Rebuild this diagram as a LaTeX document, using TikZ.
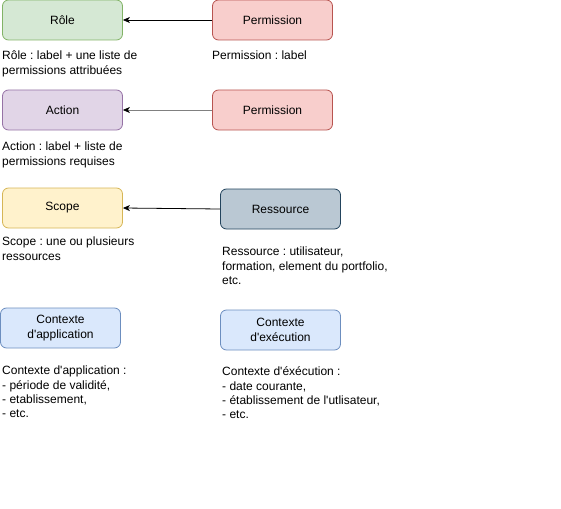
\documentclass[tikz,border=0pt]{standalone}
\usepackage{fontspec}
\setmainfont{Liberation Sans}
\usetikzlibrary{arrows.meta}
\frenchspacing
\definecolor{greenF}{HTML}{D5E8D4}\definecolor{greenD}{HTML}{82B366}
\definecolor{redF}{HTML}{F8CECC}\definecolor{redD}{HTML}{B85450}
\definecolor{purpF}{HTML}{E1D5E7}\definecolor{purpD}{HTML}{9673A6}
\definecolor{yelF}{HTML}{FFF2CC}\definecolor{yelD}{HTML}{D6B656}
\definecolor{slateF}{HTML}{BAC8D3}\definecolor{slateD}{HTML}{23445D}
\definecolor{blueF}{HTML}{DAE8FC}\definecolor{blueD}{HTML}{6C8EBF}
\definecolor{lineG}{HTML}{808080}
\newcommand{\ap}{\textquotesingle}
\begin{document}
\begin{tikzpicture}[x=1pt,y=-1pt,
  box/.style={rounded corners=6pt, minimum width=120pt, minimum height=40pt, inner sep=0pt,
    align=center, font=\fontsize{12}{15}\selectfont\frenchspacing, line width=0.8pt},
  desc/.style={anchor=north west, inner sep=0pt, align=left, font=\fontsize{12}{14.4}\selectfont\frenchspacing},
  conn/.style={line width=0.8pt, -{Stealth[length=7pt,width=6pt,inset=2pt]}}]
\useasboundingbox (0,0) rectangle (561,508);
% boxes
\node[box, fill=greenF, draw=greenD] (role) at (62.5,20) {Rôle};
\node[box, fill=redF, draw=redD] (perm1) at (272.5,20) {Permission};
\node[box, fill=purpF, draw=purpD] (action) at (62.5,110) {Action};
\node[box, fill=redF, draw=redD] (perm2) at (272.5,110) {Permission};
\node[box, fill=yelF, draw=yelD] (scope) at (62.5,208) {Scope};
\node[box, fill=slateF, draw=slateD] (res) at (280.5,209) {Ressource};
\node[box, fill=blueF, draw=blueD] (ctxapp) at (60.5,328) {Contexte\\d\ap application};
\node[box, fill=blueF, draw=blueD] (ctxexe) at (280.5,330) {Contexte\\d\ap exécution};
% connectors
\draw[conn] (perm1.west) -- (role.east);
\draw[conn, draw=lineG, -{Stealth[length=7pt,width=6pt,inset=2pt,color=black]}] (perm2.west) -- (action.east);
\draw[conn] (res.west) -- (scope.east);
% descriptions
\node[desc] (droler) at (2,49.4) {\strut Rôle : label + une liste de\\permissions attribuées};
\node[desc] (dperm) at (212,49.4) {\strut Permission : label};
\node[desc] (daction) at (2,140.4) {\strut Action : label + liste de\\permissions requises};
\node[desc] (dscope) at (2,235.4) {\strut Scope : une ou plusieurs\\ressources};
\node[desc] (dres) at (222,245.4) {\strut Ressource : utilisateur,\\formation, element du portfolio,\\etc.};
\node[desc] (dctxapp) at (2,364.4) {\strut Contexte d\ap application :\\- période de validité,\\- etablissement,\\- etc.};
\node[desc] (dctxexe) at (222,365.4) {\strut Contexte d\ap éxécution :\\- date courante,\\- établissement de l\ap utlisateur,\\- etc.};
\end{tikzpicture}
\end{document}
